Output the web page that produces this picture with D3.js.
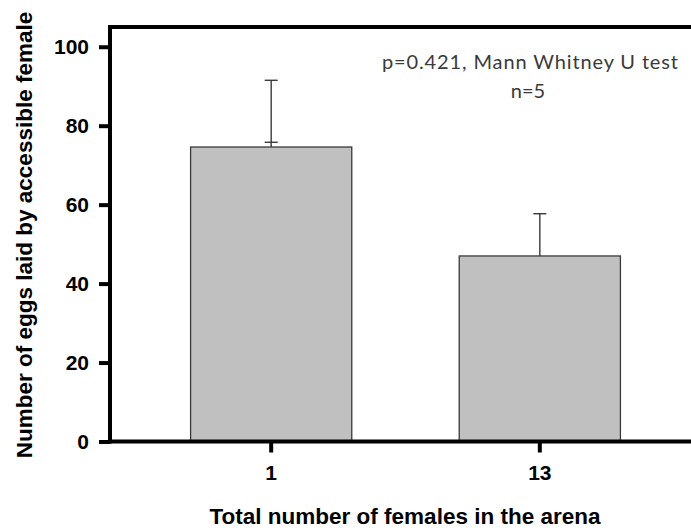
<!DOCTYPE html>
<html>
<head>
<meta charset="utf-8">
<script src="https://cdn.jsdelivr.net/npm/d3@7"></script>
<style>
  html, body { margin: 0; padding: 0; background: #fff; }
  svg { display: block; }
</style>
</head>
<body>
<svg id="chart" width="691" height="531"></svg>
<script>
// Group labels: total number of females in the arena
const categories = ["1", "13"];
// Mean eggs laid by the accessible female
const means = [74.6, 47.0];
// Upper end of the error bar
const errTop = [91.5, 57.7];
// Lower cap drawn just above the bar top (only first group)
const errLowCap = [75.8, null];
// Y tick values
const yTicks = [0, 20, 40, 60, 80, 100];

const svg = d3.select("#chart");
const plotLeft = 110, plotBottom = 441.5, plotTop = 27, plotRight = 701;

const y = d3.scaleLinear().domain([0, 105]).range([plotBottom, plotTop]);
const x = d3.scaleBand().domain(categories).range([plotLeft, plotRight])
  .paddingInner(0.4).paddingOuter(0.3);

const fontBold = "'Liberation Sans', Arial, sans-serif";

// bars
svg.append("g").selectAll("rect").data(categories).join("rect")
  .attr("x", d => x(d))
  .attr("y", (d, i) => y(means[i]))
  .attr("width", x.bandwidth())
  .attr("height", (d, i) => y(0) - y(means[i]))
  .attr("fill", "#c0c0c0")
  .attr("stroke", "#3a3a3a")
  .attr("stroke-width", 1.3);

// error bars
const eg = svg.append("g").attr("stroke", "#3a3a3a").attr("stroke-width", 1.4);
const capHalf = 6.5;
categories.forEach((c, i) => {
  const cx = x(c) + x.bandwidth() / 2;
  eg.append("line").attr("x1", cx).attr("x2", cx)
    .attr("y1", y(means[i])).attr("y2", y(errTop[i]));
  eg.append("line").attr("x1", cx - capHalf).attr("x2", cx + capHalf)
    .attr("y1", y(errTop[i])).attr("y2", y(errTop[i]));
  if (errLowCap[i] != null) {
    eg.append("line").attr("x1", cx - capHalf).attr("x2", cx + capHalf)
      .attr("y1", y(errLowCap[i])).attr("y2", y(errLowCap[i]));
  }
});

// top frame line
svg.append("line")
  .attr("x1", plotLeft - 2).attr("x2", 691)
  .attr("y1", y(105)).attr("y2", y(105))
  .attr("stroke", "#000").attr("stroke-width", 4);

// y axis
const yAxis = svg.append("g")
  .attr("transform", `translate(${plotLeft},0)`)
  .call(d3.axisLeft(y).tickValues(yTicks).tickSize(11).tickPadding(10).tickFormat(d3.format("d")));
yAxis.select(".domain").remove();
yAxis.append("line").attr("x1", 0).attr("x2", 0)
  .attr("y1", y(105) - 2).attr("y2", y(0) + 2)
  .attr("stroke", "#000").attr("stroke-width", 4);
yAxis.selectAll(".tick line").attr("stroke", "#000").attr("stroke-width", 4);
yAxis.selectAll(".tick text")
  .attr("font-family", fontBold).attr("font-weight", "bold")
  .attr("font-size", 21).attr("fill", "#000");

// x axis
const xAxis = svg.append("g")
  .attr("transform", `translate(0,${plotBottom})`)
  .call(d3.axisBottom(x).tickSize(11).tickPadding(13));
xAxis.select(".domain").remove();
xAxis.append("line").attr("x1", plotLeft - 2).attr("x2", 691)
  .attr("y1", 0).attr("y2", 0)
  .attr("stroke", "#000").attr("stroke-width", 4);
xAxis.selectAll(".tick line").attr("stroke", "#000").attr("stroke-width", 4);
xAxis.selectAll(".tick text")
  .attr("font-family", fontBold).attr("font-weight", "bold")
  .attr("font-size", 21).attr("fill", "#000");

// axis titles
svg.append("text")
  .attr("x", 405).attr("y", 524)
  .attr("text-anchor", "middle")
  .attr("font-family", fontBold).attr("font-weight", "bold")
  .attr("font-size", 22.5).attr("fill", "#000")
  .text("Total number of females in the arena");

svg.append("text")
  .attr("transform", "translate(32,235) rotate(-90)")
  .attr("text-anchor", "middle")
  .attr("font-family", fontBold).attr("font-weight", "bold")
  .attr("font-size", 22.5).attr("fill", "#000")
  .text("Number of eggs laid by accessible female");

// statistics annotation
const note = svg.append("g")
  .attr("font-family", "Lato, 'Open Sans', sans-serif")
  .attr("font-size", 20).attr("fill", "#3a3a3a")
  .attr("text-anchor", "middle");
note.append("text").attr("x", 530).attr("y", 69)
  .attr("textLength", 296).attr("lengthAdjust", "spacing")
  .text("p=0.421, Mann Whitney U test");
note.append("text").attr("x", 528).attr("y", 98)
  .text("n=5");
</script>
</body>
</html>
